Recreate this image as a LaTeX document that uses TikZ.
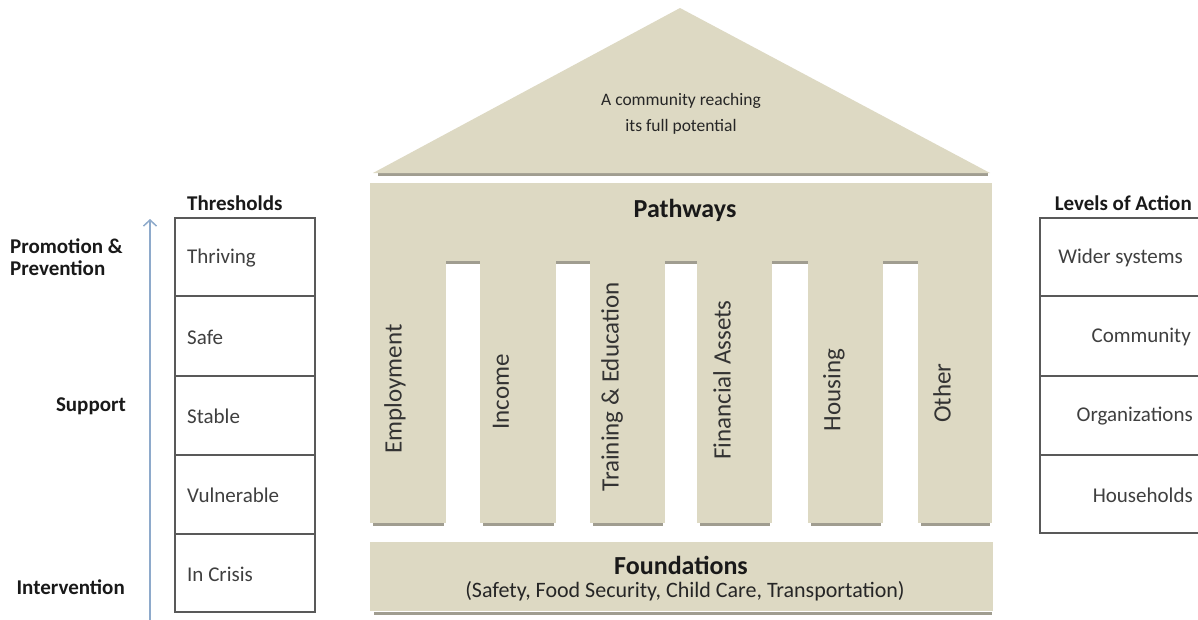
\documentclass[tikz,border=0pt]{standalone}
\usepackage{fontspec}
\setmainfont{Carlito}
\usetikzlibrary{arrows.meta}
\definecolor{tanfill}{HTML}{DDD9C3}
\definecolor{shade}{HTML}{A09D90}
\definecolor{txt}{HTML}{3F3F3F}
\definecolor{arrowblue}{HTML}{8EAACB}
\begin{document}
\begin{tikzpicture}[x=1pt,y=-1pt,
  cell/.style={draw=black!65, line width=1.5pt},
  tabtxt/.style={font=\fontsize{21}{25}\selectfont, text=txt, inner sep=0pt},
  hdr/.style={font=\fontsize{21}{25}\selectfont\bfseries, text=black!90, inner sep=0pt},
  pil/.style={font=\fontsize{25}{30}\selectfont, text=black!80, rotate=90, inner sep=0pt},
  ttl/.style={font=\fontsize{26}{30}\selectfont\bfseries, text=black!90, inner sep=0pt},
  sub/.style={font=\fontsize{22}{26}\selectfont, text=black!85, inner sep=0pt},
  rooftxt/.style={font=\fontsize{17.5}{26}\selectfont, text=black!85, align=center, inner sep=0pt},
  shadowline/.style={draw=shade, line width=3pt},
  bluearrow/.style={draw=arrowblue, line width=1.6pt, -{Straight Barb[length=6pt,width=13pt,line width=1.5pt]}}
]
\useasboundingbox (0,0) rectangle (1198,619);
\clip (0,0) rectangle (1198,619);
\fill[white] (0,0) rectangle (1198,619);

% ---------- roof ----------
\draw[shadowline] (378,174.5) -- (988,174.5);
\fill[tanfill] (373,173) -- (680,8) -- (990,173) -- cycle;
\node[rooftxt] (roof) at (681,114) {A community reaching\\its full potential};

% ---------- pathways block ----------
\fill[tanfill] (370,183) rectangle (992,262);
\foreach \a/\b in {370/446,480/556,590/665,697/772,808/883,918/992}{
  \draw[shadowline] (\a+3,524.5) -- (\b-2,524.5);
  \fill[tanfill] (\a,262) rectangle (\b,523);
}
\foreach \a/\b in {446/480,556/590,665/697,772/808,883/918}{
  \draw[draw=shade, line width=2.5pt] (\a,262.5) -- (\b,262.5);
}
\node[ttl] (path) at (685,210) {Pathways};
\node[pil] (p1) at (395,389) {Employment};
\node[pil] (p2) at (501,392) {Income};
\node[pil] (p3) at (612,387) {Training \& Education};
\node[pil] (p4) at (722,380) {Financial Assets};
\node[pil] (p5) at (834,390) {Housing};
\node[pil] (p6) at (942,393) {Other};

% ---------- foundations ----------
\draw[shadowline] (374,613) -- (992,613);
\fill[tanfill] (370,542) rectangle (993,611);
\node[ttl] (found) at (681,565) {Foundations};
\node[sub] (foundsub) at (685,591) {(Safety, Food Security, Child Care, Transportation)};

% ---------- thresholds table ----------
\node[hdr, anchor=west] (thr) at (187,203) {Thresholds};
\draw[cell] (175,218) rectangle (315,612);
\foreach \y in {296,376,455,534}{ \draw[cell] (175,\y) -- (315,\y); }
\node[tabtxt, anchor=west] (t1) at (187,258) {Thriving};
\node[tabtxt, anchor=west] (t2) at (187,337) {Safe};
\node[tabtxt, anchor=west] (t3) at (187,416) {Stable};
\node[tabtxt, anchor=west] (t4) at (187,495) {Vulnerable};
\node[tabtxt, anchor=west] (t5) at (187,574) {In Crisis};

% ---------- left labels and arrow ----------
\coordinate (abot) at (150,625);
\coordinate (atop) at (150,219);
\draw[bluearrow] (abot) -- (atop);
\node[hdr, anchor=west] (l1) at (10,246) {Promotion \&};
\node[hdr, anchor=west] (l2) at (10,268) {Prevention};
\node[hdr, anchor=east] (l3) at (126,406) {Support};
\node[hdr, anchor=east] (l4) at (125,587) {Intervention};

% ---------- levels of action table ----------
\node[hdr, anchor=east] (loa) at (1192,203) {Levels of Action};
\draw[cell] (1040,218) rectangle (1230,533);
\foreach \y in {296,376,455}{ \draw[cell] (1040,\y) -- (1230,\y); }
\node[tabtxt, anchor=east] (r1) at (1183,258) {Wider systems};
\node[tabtxt, anchor=east] (r2) at (1191,337) {Community};
\node[tabtxt, anchor=east] (r3) at (1193,416) {Organizations};
\node[tabtxt, anchor=east] (r4) at (1193,495) {Households};
\end{tikzpicture}
\end{document}
